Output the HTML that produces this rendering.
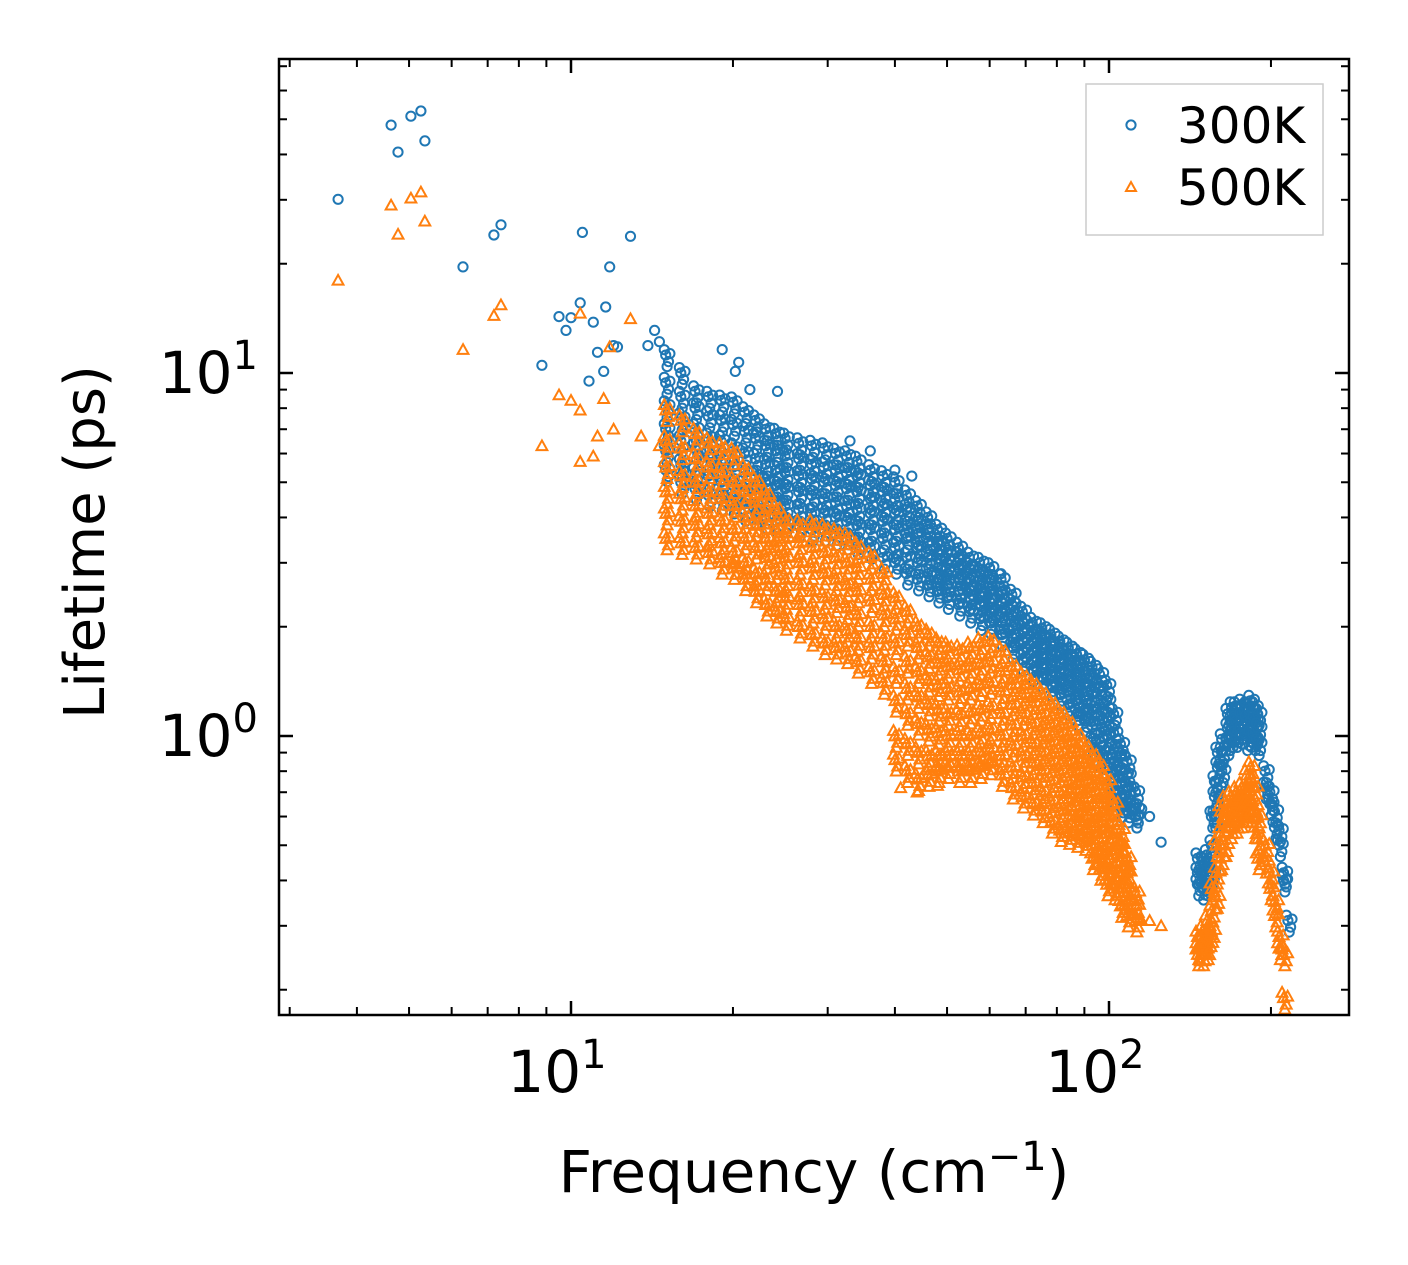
<!DOCTYPE html>
<html><head><meta charset="utf-8">
<style>
html,body{margin:0;padding:0;background:#fff;}
svg{display:block;font-family:"DejaVu Sans","Liberation Sans",sans-serif;}
</style></head>
<body>
<svg id="chart" width="1408" height="1265" viewBox="0 0 1408 1265" xmlns="http://www.w3.org/2000/svg">
<rect x="0" y="0" width="1408" height="1265" fill="#fff"/>
<g id="marks"></g>
<g id="axes"></g>
</svg>
<script>
// ---- data ----
const xTickValues = [10, 100];
const yTickValues = [1, 10];
const seriesNames = ["300K", "500K"];
const blueSparse = [[3.69,30.1],[4.63,48.2],[4.77,40.6],[5.04,51],[5.26,52.7],[5.35,43.6],[6.3,19.6],[7.19,24.0],[7.41,25.6],[8.83,10.5],[9.5,14.3],[10,14.2],[10.5,24.4],[10.4,15.6],[9.79,13.1],[11.8,19.6],[11.6,15.2],[11.0,13.8],[11.2,11.4],[12.9,23.8],[12.0,11.9],[10.8,9.5],[14.3,13.1],[13.9,11.9],[19.1,11.6],[20.5,10.7],[20.2,10.1],[11.5,10.1],[12.2,11.8],[14.6,12.2],[21.5,9.0],[24.2,8.9],[33,6.5],[36,6.1],[40,5.4],[43,5.2],[60,2.9],[63,2.8],[115,0.63],[119,0.6],[125,0.51]];
const orangeSparse = [[3.69,18],[4.63,29.0],[4.77,24.1],[5.04,30.3],[5.26,31.5],[5.35,26.2],[6.3,11.6],[7.19,14.4],[7.41,15.4],[8.83,6.3],[9.5,8.7],[10,8.4],[10.4,14.6],[10.4,7.9],[11.8,11.8],[10.4,5.7],[11,5.9],[11.2,6.7],[12.9,14.1],[12.0,7.0],[11.5,8.5],[13.5,6.7],[14.6,6.3],[17,5.0],[41,0.72],[44,0.7],[48,0.73],[115,0.31],[119,0.31],[125,0.3]];
const blueCols = [
[15,[11.2,9.4,8.1,7.0,6.1,5.4]],[16,[10.0,8.6,7.5,6.5,5.6,5.0]],[17,[8.9,8.0,7.0,6.2,5.3,4.8]],[18,[8.6,7.6,6.6,5.9,5.2,4.6]],
[19,[8.4,7.4,6.5,5.7,5.0,4.5]],[20,[8.3,7.2,6.2,5.5,4.9,4.4]],[21,[7.8,6.9,6.0,5.3,4.7,4.2]],[22,[7.4,6.6,5.8,5.2,4.6,4.1]],
[23,[7.0,6.3,5.6,5.0,4.5,4.0]],[24,[6.8,6.1,5.4,4.9,4.4,3.9]],[25,[6.6,5.9,5.3,4.8,4.3,3.9]],[26.5,[6.4,5.8,5.2,4.7,4.2,3.8]],
[28,[6.3,5.6,5.1,4.6,4.1,3.7]],[29.5,[6.2,5.5,5.0,4.5,4.1,3.7]],[31,[6.0,5.4,4.9,4.4,4.0,3.6]],[32.5,[5.9,5.3,4.8,4.3,3.9,3.5]],
[34,[5.7,5.2,4.7,4.2,3.8,3.4]],[36,[5.4,4.9,4.5,4.1,3.7,3.3]],[38,[5.2,4.7,4.3,3.9,3.5,3.1]],[40,[5.0,4.5,4.1,3.7,3.3,3.0]],
[42,[4.6,4.2,3.8,3.5,3.1,2.8]],[44,[4.3,3.9,3.6,3.3,3.0,2.7]],[46,[4.0,3.7,3.4,3.1,2.8,2.6]],[48,[3.7,3.4,3.2,2.9,2.7,2.5]],
[50,[3.5,3.2,3.0,2.8,2.6,2.4]],[52.5,[3.3,3.1,2.9,2.7,2.5,2.3]],[55,[3.1,2.9,2.7,2.55,2.4,2.2]],[57.5,[3.0,2.8,2.6,2.45,2.3,2.1]],
[60,[2.9,2.7,2.5,2.35,2.2,2.05]],[63,[2.7,2.5,2.35,2.2,2.05,1.9]],[66,[2.45,2.3,2.15,2.0,1.88,1.75]],[69,[2.2,2.07,1.95,1.83,1.72,1.62]],
[72,[2.05,1.95,1.83,1.72,1.62,1.52]],[75,[1.98,1.87,1.76,1.65,1.55,1.45]],[78,[1.9,1.8,1.68,1.57,1.47,1.38]],[81,[1.82,1.7,1.6,1.5,1.4,1.3]],
[84,[1.75,1.63,1.52,1.42,1.32,1.22]],[87,[1.68,1.56,1.45,1.35,1.25,1.15]],[90,[1.62,1.5,1.38,1.28,1.18,1.1]],[93,[1.55,1.42,1.3,1.18,1.06,0.96]],
[96,[1.48,1.35,1.22,1.1,0.98,0.88]],[99,[1.38,1.25,1.12,1.0,0.88,0.78]],[102,[1.15,1.02,0.92,0.84,0.76,0.7]],[105,[0.95,0.88,0.8,0.74,0.68,0.64]],
[108,[0.85,0.78,0.72,0.66,0.62]],[112,[0.7,0.63,0.6]],
[146,[0.46,0.42,0.39]],[149,[0.45,0.41,0.38]],[152,[0.47,0.43,0.39]],[155,[0.6,0.5,0.42]],[157,[0.75,0.68,0.6]],[159,[0.9,0.82,0.72]],
[162,[0.98,0.9,0.8]],[166,[1.15,1.05,0.95]],[169,[1.2,1.1,1.0]],[172,[1.2,1.1,1.0]],[176,[1.22,1.12,1.02]],[180,[1.2,1.1,0.98]],
[183,[1.25,1.14,1.0]],[186,[1.2,1.1,0.98]],[189,[1.15,1.05,0.95]],[195,[0.8,0.72]],[199,[0.7,0.65]],[203,[0.62,0.56]],[207,[0.55,0.5]],[211,[0.42,0.4]],[215,[0.31]]
];
const orangeCols = [
[15,[7.9,6.5,5.5,4.7,4.1,3.5]],[16,[7.4,6.2,5.2,4.5,3.9,3.4]],[17,[6.8,5.8,5.0,4.3,3.8,3.3]],[18,[6.4,5.5,4.7,4.1,3.6,3.2]],
[19,[6.2,5.3,4.5,3.9,3.4,3.0]],[20,[6.0,5.0,4.3,3.7,3.2,2.9]],[21,[5.4,4.7,4.0,3.5,3.0,2.7]],[22,[5.0,4.4,3.8,3.3,2.8,2.5]],
[23,[4.6,4.0,3.5,3.1,2.7,2.3]],[24,[4.2,3.7,3.3,2.9,2.5,2.2]],[25,[3.9,3.5,3.1,2.7,2.4,2.1]],[26.5,[3.8,3.4,3.0,2.6,2.3,2.0]],
[28,[3.8,3.3,2.9,2.5,2.2,1.9]],[29.5,[3.7,3.2,2.8,2.4,2.1,1.8]],[31,[3.6,3.1,2.7,2.35,2.0,1.75]],[32.5,[3.5,3.0,2.6,2.25,1.95,1.7]],
[34,[3.3,2.9,2.5,2.15,1.85,1.6]],[36,[3.1,2.7,2.35,2.0,1.75,1.5]],[38,[2.8,2.45,2.15,1.85,1.6,1.4]],[40,[2.4,2.1,1.8,1.5,1.25,1.0,0.86]],
[42,[2.2,1.9,1.6,1.35,1.15,0.95,0.8]],[44,[2.0,1.75,1.5,1.28,1.08,0.9,0.76]],[46,[1.9,1.65,1.42,1.22,1.04,0.88,0.78]],[48,[1.8,1.58,1.38,1.18,1.02,0.88,0.8]],
[50,[1.75,1.55,1.35,1.15,1.0,0.88,0.82]],[52.5,[1.72,1.52,1.32,1.14,1.0,0.88,0.8]],[55,[1.75,1.55,1.35,1.16,1.0,0.88,0.8]],[57.5,[1.8,1.58,1.38,1.18,1.02,0.9,0.82]],
[60,[1.82,1.6,1.4,1.2,1.04,0.92,0.84]],[63,[1.7,1.5,1.32,1.15,1.0,0.88,0.78]],[66,[1.55,1.38,1.22,1.07,0.94,0.82,0.72]],[69,[1.45,1.3,1.15,1.0,0.88,0.77,0.68]],
[72,[1.38,1.23,1.08,0.95,0.84,0.74,0.65]],[75,[1.3,1.15,1.02,0.9,0.8,0.7,0.62]],[78,[1.22,1.08,0.96,0.85,0.75,0.66,0.58]],[81,[1.15,1.02,0.9,0.8,0.7,0.62,0.55]],
[84,[1.08,0.96,0.85,0.75,0.67,0.6,0.54]],[87,[1.0,0.9,0.8,0.71,0.64,0.58,0.53]],[90,[0.93,0.84,0.75,0.67,0.6,0.55,0.52]],[93,[0.88,0.79,0.7,0.62,0.56,0.5,0.46]],
[96,[0.82,0.73,0.65,0.58,0.52,0.47,0.43]],[99,[0.75,0.67,0.6,0.54,0.48,0.43,0.39]],[102,[0.65,0.58,0.52,0.47,0.42,0.38]],[105,[0.55,0.5,0.45,0.41,0.37,0.34]],
[108,[0.46,0.42,0.38,0.35,0.32]],[112,[0.37,0.34,0.31]],
[146,[0.28,0.26,0.25]],[149,[0.29,0.27,0.25]],[152,[0.31,0.28,0.26]],[155,[0.38,0.33,0.29]],[158,[0.5,0.42,0.36]],[161,[0.62,0.54,0.46]],
[164,[0.66,0.58,0.5]],[168,[0.68,0.62,0.56]],[172,[0.7,0.64,0.58]],[176,[0.72,0.66,0.6]],[180,[0.78,0.7,0.62]],[183,[0.82,0.72,0.62]],
[186,[0.72,0.64,0.56]],[189,[0.6,0.52,0.46]],[195,[0.5,0.45]],[199,[0.42,0.38]],[203,[0.35,0.32]],[207,[0.28,0.26]],[211,[0.25,0.19]]
];

// ---- axes ----
const L=279,R=1349,T=59,B=1015;
const X10=571, XDEC=538, Y1=736, YDEC=363;
function xs(f){return X10+XDEC*Math.log10(f/10);}
function ys(v){return Y1-YDEC*Math.log10(v);}
const NS="http://www.w3.org/2000/svg";
function mk(tag,attrs,parent){const e=document.createElementNS(NS,tag);for(const k in attrs)e.setAttribute(k,attrs[k]);parent.appendChild(e);return e;}
const marks=document.getElementById('marks'), axes=document.getElementById('axes');
const BLUE="#1f77b4", ORANGE="#ff7f0e";
function circle(f,v,parent){
  const c=mk('circle',{cx:xs(f).toFixed(1),cy:ys(v).toFixed(1),r:4.6,fill:'none',stroke:BLUE,'stroke-width':2},parent);
  
  
}
function tri(f,v,parent){
  const x=xs(f),y=ys(v),s=5.4;
  const p=mk('polygon',{points:`${x},${y-s} ${x-s},${y+s*0.8} ${x+s},${y+s*0.8}`,fill:'none',stroke:ORANGE,'stroke-width':2},parent);
  
  
}
const gB=mk('g',{},marks);


const gO=mk('g',{},marks);


const cloudDx=[1,1.012,0.994,1.006,1.018];
const cloudDy=[1,0.96,1.035,0.93,1.01];
blueSparse.forEach(d=>circle(d[0],d[1],gB));
blueCols.forEach(c=>c[1].forEach(v=>{for(let k=0;k<cloudDx.length;k++)circle(c[0]*cloudDx[k],v*cloudDy[k],gB);}));
orangeSparse.forEach(d=>tri(d[0],d[1],gO));
orangeCols.forEach(c=>c[1].forEach(v=>{for(let k=0;k<cloudDx.length;k++)tri(c[0]*cloudDx[k],v*cloudDy[k],gO);}));

const fr=mk('rect',{x:L,y:T,width:R-L,height:B-T,fill:'none',stroke:'#000','stroke-width':2.5},axes);


const xMinor=[3,4,5,6,7,8,9,20,30,40,50,60,70,80,90,200];
const yMinor=[0.2,0.3,0.4,0.5,0.6,0.7,0.8,0.9,2,3,4,5,6,7,8,9,20,30,40,50,60,70];
function tick(x1,y1,x2,y2,w){mk('line',{x1,y1,x2,y2,stroke:'#000','stroke-width':w},axes);}
xTickValues.forEach(f=>{const x=xs(f);tick(x,B,x,B-14,2.5);tick(x,T,x,T+14,2.5);});
xMinor.forEach(f=>{const x=xs(f);if(x<L||x>R)return;tick(x,B,x,B-8,2);tick(x,T,x,T+8,2);});
yTickValues.forEach(v=>{const y=ys(v);tick(L,y,L+14,y,2.5);tick(R,y,R-14,y,2.5);});
yMinor.forEach(v=>{const y=ys(v);if(y<T||y>B)return;tick(L,y,L+8,y,2);tick(R,y,R-8,y,2);});
const xExp=["1","2"];
xTickValues.forEach((f,i)=>{
  const t=mk('text',{x:xs(f)-14,y:1092,'text-anchor':'middle','font-size':58},axes);
  
  
  t.innerHTML='10<tspan dy="-24" font-size="40">'+xExp[i]+'</tspan>';
});
const yExp=["0","1"];
yTickValues.forEach((v,i)=>{
  const t=mk('text',{x:258,y:ys(v)+20,'text-anchor':'end','font-size':58},axes);
  
  
  t.innerHTML='10<tspan dy="-24" font-size="40">'+yExp[i]+'</tspan>';
});
</script>
<svg style="position:absolute;left:0;top:0" width="1408" height="1265">
<text x="814" y="1192" text-anchor="middle" font-size="58" font-family="DejaVu Sans, Liberation Sans, sans-serif">Frequency (cm<tspan dy="-22" font-size="40">−1</tspan><tspan dy="22">)</tspan></text>
<text transform="translate(104,542) rotate(-90)" text-anchor="middle" font-size="56" font-family="DejaVu Sans, Liberation Sans, sans-serif">Lifetime (ps)</text>
<g>
<rect x="1086" y="84" width="237" height="151" fill="#fff" stroke="#ccc" stroke-width="1.5"/>
<circle cx="1131" cy="125" r="4.6" fill="none" stroke="#1f77b4" stroke-width="2"/>
<text x="1177" y="143" font-size="50" font-family="DejaVu Sans, Liberation Sans, sans-serif">300K</text>
<polygon points="1131,182 1126,191 1136,191" fill="none" stroke="#ff7f0e" stroke-width="2"/>
<text x="1177" y="205" font-size="50" font-family="DejaVu Sans, Liberation Sans, sans-serif">500K</text>
</g>
</svg>
</body></html>
